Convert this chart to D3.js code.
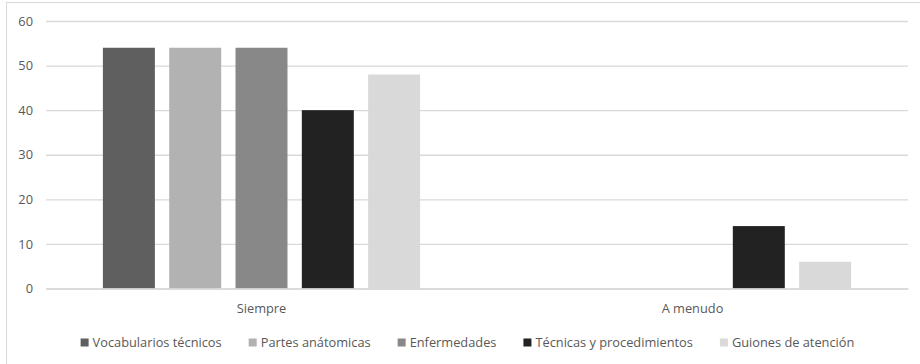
<!DOCTYPE html>
<html>
<head>
<meta charset="utf-8">
<script src="https://cdn.jsdelivr.net/npm/d3@7"></script>
<style>
  html, body { margin: 0; padding: 0; background: #fff; }
  svg { display: block; font-family: "Open Sans", "Liberation Sans", sans-serif; }
</style>
</head>
<body>
<svg id="chart" width="920" height="364"></svg>
<script>
const categories = ["Siempre", "A menudo"];
const seriesNames = ["Vocabularios técnicos", "Partes anátomicas", "Enfermedades", "Técnicas y procedimientos", "Guiones de atención"];
const seriesColors = ["#5f5f5f", "#b2b2b2", "#888888", "#222222", "#d9d9d9"];
const vocabulariosTecnicos = [54, 0];
const partesAnatomicas = [54, 0];
const enfermedades = [54, 0];
const tecnicasProcedimientos = [40, 14];
const guionesAtencion = [48, 6];
const seriesValues = [vocabulariosTecnicos, partesAnatomicas, enfermedades, tecnicasProcedimientos, guionesAtencion];
const yTicks = [0, 10, 20, 30, 40, 50, 60];

const svg = d3.select("#chart");
const W = 920, H = 364;
const margin = { left: 46, right: 12, top: 21, bottom: 75.5 };
const textColor = "#595959";
const fontSize = 12.8;

// chart border
svg.append("rect").attr("x", 6.5).attr("y", 2.5).attr("width", W + 10).attr("height", H + 10)
  .attr("fill", "none").attr("stroke", "#d9d9d9").attr("stroke-width", 1);

const x0 = d3.scaleBand().domain(categories).range([margin.left, W - margin.right]);
const y = d3.scaleLinear().domain([0, 60]).range([H - margin.bottom, margin.top]);
const x1 = d3.scaleBand().domain(d3.range(seriesNames.length)).range([0, x0.bandwidth()]).paddingInner(0.216).paddingOuter(0.858);

// gridlines
const yAxis = d3.axisLeft(y).tickValues(yTicks).tickSize(-(W - margin.right - margin.left)).tickPadding(13);
const gy = svg.append("g").attr("transform", `translate(${margin.left},0)`).call(yAxis);
gy.select(".domain").remove();
gy.selectAll(".tick line").attr("stroke", "#d9d9d9").attr("stroke-width", 1.3);
gy.selectAll(".tick text").attr("fill", textColor).attr("font-size", fontSize).attr("font-family", "Open Sans");

// bars
const groups = svg.append("g").selectAll("g").data(categories).join("g")
  .attr("transform", d => `translate(${x0(d)},0)`);
groups.selectAll("rect").data((c, ci) => seriesValues.map((vals, si) => ({ si, v: vals[ci] })))
  .join("rect")
  .attr("x", d => x1(d.si))
  .attr("width", x1.bandwidth())
  .attr("y", d => y(d.v))
  .attr("height", d => y(0) - y(d.v))
  .attr("fill", d => seriesColors[d.si]);

// category axis labels
const xAxis = d3.axisBottom(x0).tickSize(0).tickPadding(15);
const gx = svg.append("g").attr("transform", `translate(0,${y(0)})`).call(xAxis);
gx.select(".domain").attr("stroke", "#d9d9d9").attr("stroke-width", 1.3);
gx.selectAll(".tick text").attr("fill", textColor).attr("font-size", fontSize).attr("font-family", "Open Sans");

// legend
const legend = svg.append("g");
const items = legend.selectAll("g").data(seriesNames).join("g");
items.append("rect").attr("width", 8).attr("height", 8).attr("y", -4).attr("fill", (d, i) => seriesColors[i]);
items.append("text").attr("x", 12).attr("dy", "0.35em").attr("font-size", fontSize).attr("fill", textColor).text(d => d);
let pos = 0;
const gap = 27;
const offsets = [];
items.each(function() {
  const w = d3.select(this).select("text").node().getComputedTextLength();
  offsets.push(pos);
  pos += 12 + w + gap;
});
const total = pos - gap;
const startX = 467.5 - total / 2;
items.attr("transform", (d, i) => `translate(${startX + offsets[i]},342.5)`);
</script>
</body>
</html>
